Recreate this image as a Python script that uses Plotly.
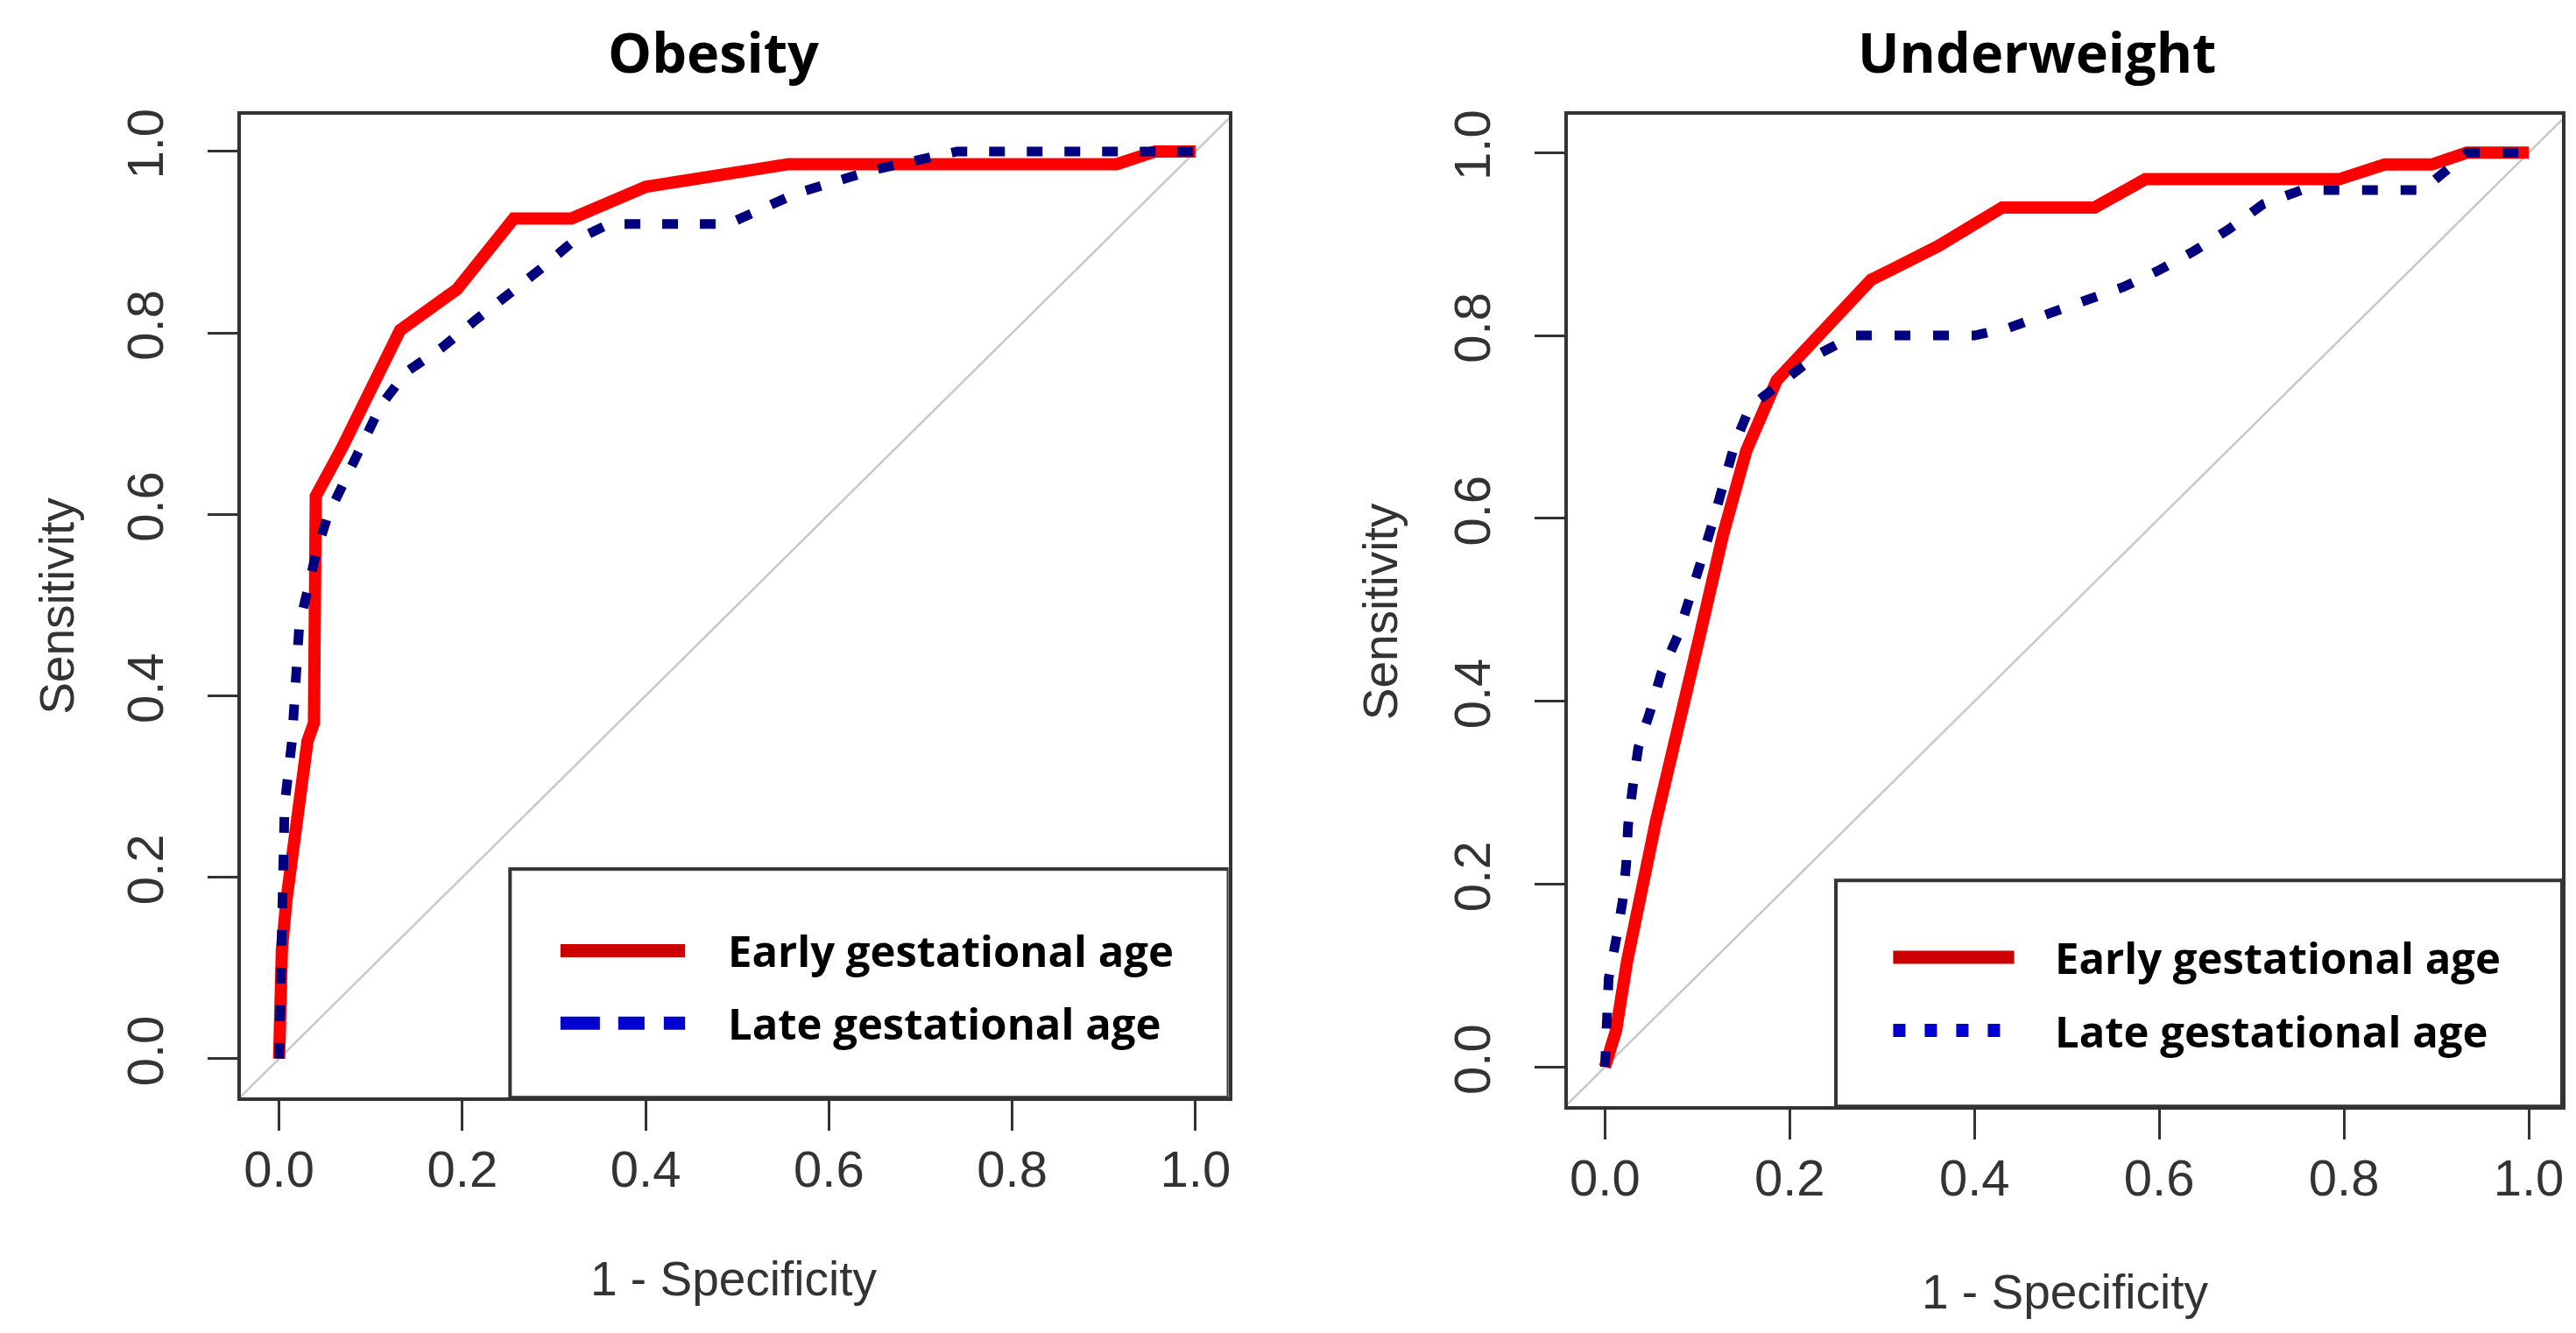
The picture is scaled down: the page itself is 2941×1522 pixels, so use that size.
import plotly.graph_objects as go

# ---------------- data ----------------
ob_early_x = [0, 0, 0.003, 0.008, 0.015, 0.023, 0.031, 0.038, 0.040, 0.069, 0.132, 0.194, 0.256, 0.319, 0.400, 0.556, 0.914, 0.956, 1.0]
ob_early_y = [0, 0.09, 0.12, 0.175, 0.236, 0.295, 0.35, 0.37, 0.62, 0.674, 0.803, 0.848, 0.926, 0.926, 0.961, 0.986, 0.986, 1.0, 1.0]

ob_late_x = [0, 0.002, 0.005, 0.006, 0.014, 0.018, 0.022, 0.031, 0.041, 0.053, 0.073, 0.090, 0.111, 0.139, 0.178,
             0.213, 0.248, 0.286, 0.321, 0.36, 0.49, 0.565, 0.65, 0.695, 0.74, 1.0]
ob_late_y = [0, 0.1, 0.2, 0.28, 0.35, 0.43, 0.478, 0.516, 0.56, 0.598, 0.64, 0.681, 0.72, 0.757, 0.784,
             0.813, 0.84, 0.871, 0.901, 0.92, 0.92, 0.954, 0.98, 0.99, 1.0, 1.0]

uw_early_x = [0, 0.012, 0.024, 0.055, 0.102, 0.128, 0.153, 0.186, 0.237, 0.288, 0.31, 0.361, 0.43, 0.53, 0.585,
              0.795, 0.844, 0.895, 0.933, 1.0]
uw_early_y = [0, 0.04, 0.116, 0.268, 0.469, 0.583, 0.674, 0.751, 0.806, 0.861, 0.872, 0.898, 0.94, 0.94, 0.971,
              0.971, 0.987, 0.987, 1.0, 1.0]

uw_late_x = [0, 0.001, 0.004, 0.012, 0.019, 0.023, 0.025, 0.030, 0.036, 0.049, 0.061, 0.079, 0.093, 0.104, 0.117,
             0.128, 0.141, 0.157, 0.193, 0.23, 0.27, 0.40, 0.436, 0.477, 0.52, 0.561, 0.599, 0.637, 0.675, 0.713,
             0.754, 0.885, 0.916, 0.933, 1.0]
uw_late_y = [0, 0.054, 0.097, 0.139, 0.181, 0.222, 0.264, 0.306, 0.349, 0.389, 0.431, 0.472, 0.514, 0.553, 0.597,
             0.641, 0.683, 0.722, 0.751, 0.779, 0.80, 0.80, 0.808, 0.823, 0.839, 0.853, 0.871, 0.892, 0.916, 0.944,
             0.959, 0.959, 0.985, 1.0, 1.0]

panel_titles = ["Obesity", "Underweight"]
series_names = ["Early gestational age", "Late gestational age"]
tick_vals = [0.0, 0.2, 0.4, 0.6, 0.8, 1.0]
tick_text = ["0.0", "0.2", "0.4", "0.6", "0.8", "1.0"]
diag = [-0.2, 1.2]

W, H = 2941, 1522
RED = "#FF0000"
NAVY = "#00007F"
LEG_RED = "#CC0000"
LEG_BLUE = "#0000D0"
BOX = "#333333"

fig = go.Figure()

panels = [
    dict(xa="x", ya="y", early=(ob_early_x, ob_early_y), late=(ob_late_x, ob_late_y),
         late_dash="18px,25px", leg_dash="45px,21px,30px,22px,30px"),
    dict(xa="x2", ya="y2", early=(uw_early_x, uw_early_y), late=(uw_late_x, uw_late_y),
         late_dash="18px,26px", leg_dash="14px,22px"),
]

for p in panels:
    fig.add_trace(go.Scatter(x=diag, y=diag, mode="lines", xaxis=p["xa"], yaxis=p["ya"],
                             line=dict(color="#C8C8C8", width=2.5), showlegend=False, hoverinfo="skip"))
    fig.add_trace(go.Scatter(x=p["early"][0], y=p["early"][1], mode="lines", xaxis=p["xa"], yaxis=p["ya"],
                             line=dict(color=RED, width=14), name=series_names[0], showlegend=False))
    fig.add_trace(go.Scatter(x=p["late"][0], y=p["late"][1], mode="lines", xaxis=p["xa"], yaxis=p["ya"],
                             line=dict(color=NAVY, width=11, dash=p["late_dash"]), name=series_names[1],
                             showlegend=False))

axis_common = dict(showgrid=False, zeroline=False, showline=True, mirror=True, linewidth=4, linecolor=BOX,
                   ticks="outside", ticklen=34, tickwidth=3, tickcolor=BOX,
                   tickvals=tick_vals, ticktext=tick_text,
                   tickfont=dict(family="Liberation Sans", size=58, color="#333333"))

fig.update_layout(
    width=W, height=H, paper_bgcolor="white", plot_bgcolor="white",
    margin=dict(l=0, r=0, t=0, b=0), showlegend=False,
    xaxis=dict(domain=[267 / W, 1396 / W], range=[-0.042, 1.036], anchor="y", ticklabelstandoff=-6, **axis_common),
    yaxis=dict(domain=[1 - 1244 / H, 1 - 117 / H], range=[-0.043, 1.040], anchor="x", tickangle=-90,
               ticklabelstandoff=28, **axis_common),
    xaxis2=dict(domain=[1784 / W, 2920 / W], range=[-0.040, 1.036], anchor="y2", ticklabelstandoff=-6, **axis_common),
    yaxis2=dict(domain=[1 - 1254 / H, 1 - 117 / H], range=[-0.043, 1.041], anchor="x2", tickangle=-90,
                ticklabelstandoff=28, **axis_common),
)

annotations = []
shapes = []
title_x = [807 / W, 2320 / W]
ylab_x = [57 / W, 1569 / W]
ylab_y = [1 - 680 / H, 1 - 686 / H]
xlab_x = [831 / W, 2352 / W]
xlab_y = [1 - 1452 / H, 1 - 1467 / H]
leg = [dict(box_x0=0.252, box_x1=1.036, box_y0=-0.043, box_y1=0.209, lx0=0.307, lx1=0.443, y1=0.119, y2=0.039,
            tx=0.488),
       dict(box_x0=0.250, box_x1=1.036, box_y0=-0.043, box_y1=0.204, lx0=0.312, lx1=0.443, y1=0.120, y2=0.040,
            tx=0.485)]

for i, p in enumerate(panels):
    annotations.append(dict(text="<b>%s</b>" % panel_titles[i], xref="paper", yref="paper", x=title_x[i], y=0.971,
                            xanchor="center", yanchor="middle", showarrow=False,
                            font=dict(family="Open Sans", size=63, color="black")))
    annotations.append(dict(text="Sensitivity", xref="paper", yref="paper", x=ylab_x[i], y=ylab_y[i],
                            xanchor="center", yanchor="middle", showarrow=False, textangle=-90,
                            font=dict(family="Liberation Sans", size=55, color="#333333")))
    annotations.append(dict(text="1 - Specificity", xref="paper", yref="paper", x=xlab_x[i], y=xlab_y[i],
                            xanchor="center", yanchor="middle", showarrow=False,
                            font=dict(family="Liberation Sans", size=55, color="#333333")))
    L = leg[i]
    shapes.append(dict(type="rect", xref=p["xa"], yref=p["ya"], x0=L["box_x0"], x1=L["box_x1"],
                       y0=L["box_y0"], y1=L["box_y1"], line=dict(color=BOX, width=4), fillcolor="rgba(0,0,0,0)"))
    shapes.append(dict(type="line", xref=p["xa"], yref=p["ya"], x0=L["lx0"], x1=L["lx1"], y0=L["y1"], y1=L["y1"],
                       line=dict(color=LEG_RED, width=15)))
    shapes.append(dict(type="line", xref=p["xa"], yref=p["ya"], x0=L["lx0"], x1=L["lx1"], y0=L["y2"], y1=L["y2"],
                       line=dict(color=LEG_BLUE, width=15, dash=p["leg_dash"])))
    for name, yy in zip(series_names, [L["y1"], L["y2"]]):
        annotations.append(dict(text="<b>%s</b>" % name, xref=p["xa"], yref=p["ya"], x=L["tx"], y=yy,
                                xanchor="left", yanchor="middle", showarrow=False,
                                font=dict(family="Open Sans", size=49, color="black")))

fig.update_layout(annotations=annotations, shapes=shapes)
fig.write_html("out.html")
